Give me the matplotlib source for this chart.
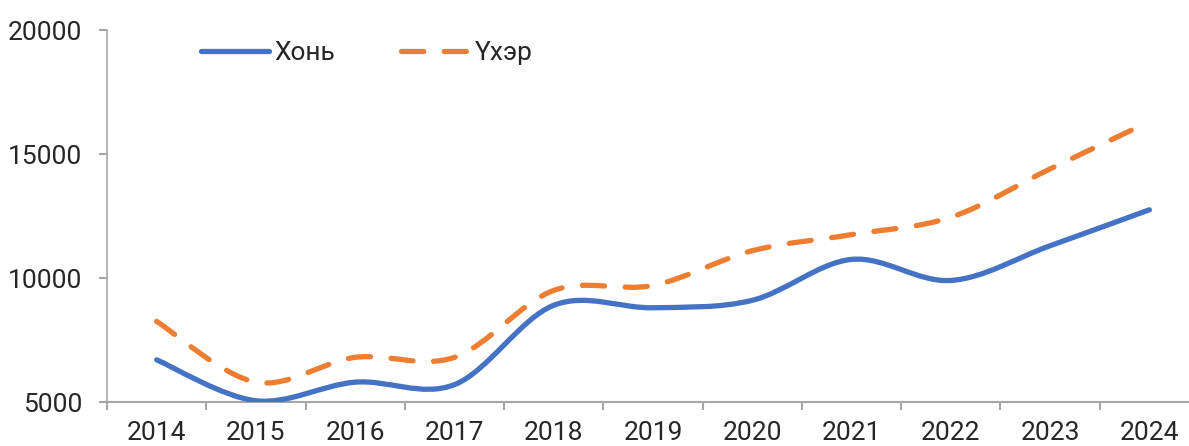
import numpy as np
import matplotlib
matplotlib.use("Agg")
import matplotlib.pyplot as plt
from matplotlib.path import Path
from matplotlib.patches import PathPatch
from matplotlib.lines import Line2D
from matplotlib.ticker import FixedLocator

plt.rcParams['font.family'] = ['Roboto', 'DejaVu Sans']

years = ['2014', '2015', '2016', '2017', '2018', '2019',
         '2020', '2021', '2022', '2023', '2024']
khon = [6700, 5050, 5800, 5700, 8900, 8800, 9100, 10750, 9900, 11300, 12750]
ukher = [8250, 5800, 6800, 6800, 9500, 9700, 11100, 11750, 12450, 14400, 16300]

BLUE = '#4472C4'
ORANGE = '#ED7D31'
TEXT = '#262626'
AXIS = '#A6A6A6'


def smooth_path(xs, ys):
    # Excel-style smoothed line: cubic bezier segments through every point
    pts = np.column_stack([xs, ys]).astype(float)
    n = len(pts)
    verts = [pts[0]]
    codes = [Path.MOVETO]
    for i in range(n - 1):
        p0 = pts[max(i - 1, 0)]
        p1 = pts[i]
        p2 = pts[i + 1]
        p3 = pts[min(i + 2, n - 1)]
        c1 = p1 + (p2 - p0) / 6.0
        c2 = p2 - (p3 - p1) / 6.0
        verts += [c1, c2, p2]
        codes += [Path.CURVE4] * 3
    return Path(verts, codes)


fig = plt.figure(figsize=(11.89, 4.46), dpi=100)
ax = fig.add_axes([107 / 1189, 44 / 446, 1092 / 1189, 372 / 446])

x = np.arange(len(years))
lw = 3.8
ax.add_patch(PathPatch(smooth_path(x, khon), fill=False, edgecolor=BLUE,
                       lw=lw, capstyle='round', joinstyle='round', zorder=3))
ax.add_patch(PathPatch(smooth_path(x, ukher), fill=False, edgecolor=ORANGE,
                       lw=lw, linestyle=(0, (4.2, 3.9)), capstyle='round',
                       joinstyle='round', zorder=3))

ax.set_xlim(-0.5, len(years) - 0.5)
ax.set_ylim(5000, 20000)
ax.set_yticks([5000, 10000, 15000, 20000])

ax.set_xticks(x)
ax.set_xticklabels(years)
ax.xaxis.set_minor_locator(FixedLocator(np.arange(-0.5, len(years), 1.0)))
ax.tick_params(axis='x', which='major', length=0, pad=14,
               labelsize=19, labelcolor=TEXT)
ax.tick_params(axis='x', which='minor', length=6, width=1.5, color=AXIS,
               direction='out')
ax.tick_params(axis='y', length=6, width=1.5, color=AXIS, pad=12,
               labelsize=19, labelcolor=TEXT)

for side in ['top', 'right']:
    ax.spines[side].set_visible(False)
for side in ['left', 'bottom']:
    ax.spines[side].set_color(AXIS)
    ax.spines[side].set_linewidth(1.5)
ax.spines['left'].set_linewidth(1.2)

handles = [
    Line2D([], [], color=BLUE, lw=lw, solid_capstyle='round'),
    Line2D([], [], color=ORANGE, lw=lw, linestyle=(0, (4.2, 3.9)),
           dash_capstyle='round'),
]
ax.legend(handles, ['Хонь', 'Үхэр'], ncol=2, frameon=False,
          loc='upper left', bbox_to_anchor=(0.064, 1.033),
          fontsize=19, labelcolor=TEXT, handlelength=2.6,
          handletextpad=0.2, columnspacing=2.5)

fig.savefig('out.png', dpi=100)
